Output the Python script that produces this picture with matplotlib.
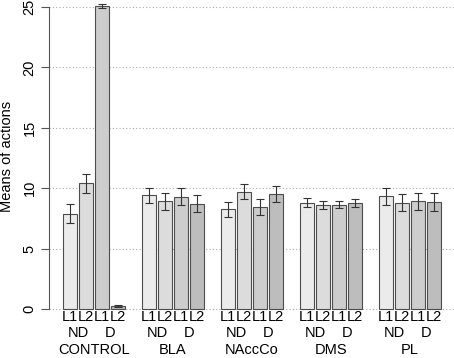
import numpy as np
import matplotlib
matplotlib.use('Agg')
import matplotlib.pyplot as plt

plt.rcParams['font.family'] = ['Liberation Sans', 'DejaVu Sans']

# Data
groups = ['CONTROL', 'BLA', 'NAccCo', 'DMS', 'PL']
conditions = ['ND', 'D']
levels = ['L1', 'L2']
means = [
    [7.9, 10.4, 25.1, 0.25],
    [9.4, 8.9, 9.3, 8.7],
    [8.25, 9.7, 8.45, 9.5],
    [8.8, 8.6, 8.65, 8.8],
    [9.35, 8.8, 8.9, 8.85],
]
errors = [
    [0.8, 0.8, 0.15, 0.05],
    [0.65, 0.7, 0.7, 0.7],
    [0.6, 0.63, 0.63, 0.66],
    [0.36, 0.36, 0.33, 0.33],
    [0.7, 0.72, 0.69, 0.75],
]
bar_colors = ['#ebebeb', '#dcdcdc', '#cdcdcd', '#bdbdbd']
yticks = [0, 5, 10, 15, 20, 25]

group_step = 4.9375
bar_width = 0.875

fig = plt.figure(figsize=(4.54, 3.58), dpi=100)
ax = fig.add_axes([49 / 454, 47 / 358, 1 - 49 / 454, 310 / 358])

for g, name in enumerate(groups):
    xs = g * group_step + np.arange(4)
    ax.bar(xs, means[g], width=bar_width, color=bar_colors,
           edgecolor='#4d4d4d', linewidth=0.8, zorder=2)
    ax.errorbar(xs, means[g], yerr=errors[g], fmt='none', ecolor='#333333',
                elinewidth=0.8, capsize=2.8, capthick=0.8, zorder=3)
    for i, x in enumerate(xs):
        ax.text(x, -0.66, levels[i % 2], ha='center', va='center',
                fontsize=10.5, clip_on=False)
    for c, cond in enumerate(conditions):
        ax.text(xs[2 * c] + 0.5, -2.0, cond, ha='center', va='center',
                fontsize=10.5, clip_on=False)
    ax.text(xs.mean(), -3.4, name, ha='center', va='center',
            fontsize=10.5, clip_on=False)

for y in yticks:
    ax.axhline(y, color='#aaaaaa', linestyle=(0, (1, 2)), linewidth=0.8, zorder=1)

ax.set_xlim(-1.3125, 24.0)
ax.set_ylim(-2 / 12.08, 25 + 6 / 12.08)
ax.set_xticks([])
ax.set_yticks(yticks)
ax.set_yticklabels([str(t) for t in yticks], rotation=90, va='center', fontsize=10.5)
ax.tick_params(axis='y', direction='out', length=6, width=0.8, color='#555555', pad=3)
for side in ['top', 'right', 'bottom']:
    ax.spines[side].set_visible(False)
ax.spines['left'].set_bounds(0, 25)
ax.spines['left'].set_color('#555555')
ax.spines['left'].set_linewidth(0.8)
ax.set_ylabel('Means of actions', fontsize=10.5, labelpad=6)
ax.patch.set_visible(False)

fig.savefig('out.png', dpi=100)
